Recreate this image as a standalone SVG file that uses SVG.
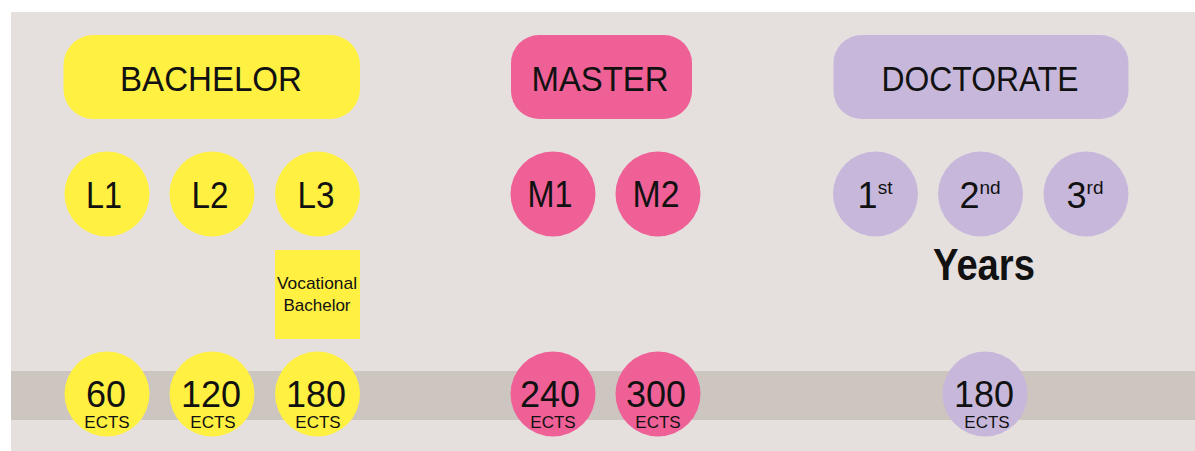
<svg xmlns="http://www.w3.org/2000/svg" width="1195" height="451" viewBox="0 0 1195 451">
<style>
text{font-family:"Liberation Sans",Arial,sans-serif;fill:#111;text-anchor:middle}
.y{fill:#fff042}.p{fill:#ee6096}.v{fill:#c7b8db}
.h{font-size:35px}
.c{font-size:36px}
.n{font-size:36px}
.e{font-size:17px}
.sup{font-size:19px}
.voc{font-size:17px}
</style>
<rect x="0" y="0" width="1195" height="451" fill="#ffffff"/>
<rect x="11" y="12" width="1184" height="439" fill="#e5e0de"/>
<rect x="11" y="371" width="1184" height="49" fill="#cdc5c0"/>
<g id="connectors"></g>
<g id="bachelor"><rect class="y" x="63.5" y="35" width="296.5" height="84" rx="30"/><text class="h" x="211" y="91" textLength="182" lengthAdjust="spacingAndGlyphs">BACHELOR</text></g>
<g id="master"><rect class="p" x="511" y="35" width="181" height="84" rx="28"/><text class="h" x="600" y="91" textLength="137" lengthAdjust="spacingAndGlyphs">MASTER</text></g>
<g id="doctorate"><rect class="v" x="833.5" y="35" width="295" height="84" rx="28"/><text class="h" x="980" y="91" textLength="197" lengthAdjust="spacingAndGlyphs">DOCTORATE</text></g>
<g id="l1"><circle class="y" cx="107" cy="194" r="42.5"/><text class="c" x="104" y="208" textLength="36" lengthAdjust="spacingAndGlyphs">L1</text></g>
<g id="l2"><circle class="y" cx="212" cy="194" r="42.5"/><text class="c" x="210" y="208" textLength="37" lengthAdjust="spacingAndGlyphs">L2</text></g>
<g id="l3"><circle class="y" cx="317.5" cy="194" r="42.5"/><text class="c" x="316" y="208" textLength="37" lengthAdjust="spacingAndGlyphs">L3</text></g>
<g id="vocational"><rect class="y" x="275" y="250" width="85" height="89"/><text class="voc" x="317" y="289" textLength="80" lengthAdjust="spacingAndGlyphs">Vocational</text><text class="voc" x="317" y="311">Bachelor</text></g>
<g id="m1"><circle class="p" cx="553" cy="194" r="42.5"/><text class="c" x="550" y="207" textLength="45" lengthAdjust="spacingAndGlyphs">M1</text></g>
<g id="m2"><circle class="p" cx="658" cy="194" r="42.5"/><text class="c" x="656" y="207" textLength="47" lengthAdjust="spacingAndGlyphs">M2</text></g>
<g id="y1"><circle class="v" cx="875.5" cy="194" r="42.5"/><text class="c" x="875" y="208">1<tspan class="sup" dy="-14">st</tspan></text></g>
<g id="y2"><circle class="v" cx="980.5" cy="194" r="42.5"/><text class="c" x="980" y="208">2<tspan class="sup" dy="-14">nd</tspan></text></g>
<g id="y3"><circle class="v" cx="1086" cy="194" r="42.5"/><text class="c" x="1085" y="208">3<tspan class="sup" dy="-14">rd</tspan></text></g>
<g id="years"><text x="984" y="280" style="font-size:44px;font-weight:bold" textLength="102" lengthAdjust="spacingAndGlyphs">Years</text></g>
<g id="e60"><circle class="y" cx="107" cy="394" r="42.5"/><text class="n" x="106" y="407">60</text><text class="e" x="107" y="428">ECTS</text></g>
<g id="e120"><circle class="y" cx="212" cy="394" r="42.5"/><text class="n" x="211" y="407">120</text><text class="e" x="213" y="428">ECTS</text></g>
<g id="e180"><circle class="y" cx="317.5" cy="394" r="42.5"/><text class="n" x="316" y="407">180</text><text class="e" x="318" y="428">ECTS</text></g>
<g id="e240"><circle class="p" cx="553" cy="394" r="42.5"/><text class="n" x="550" y="407">240</text><text class="e" x="553" y="428">ECTS</text></g>
<g id="e300"><circle class="p" cx="658" cy="394" r="42.5"/><text class="n" x="656" y="407">300</text><text class="e" x="658" y="428">ECTS</text></g>
<g id="e180d"><circle class="v" cx="985" cy="394" r="42.5"/><text class="n" x="984" y="407">180</text><text class="e" x="987" y="428">ECTS</text></g>
</svg>
